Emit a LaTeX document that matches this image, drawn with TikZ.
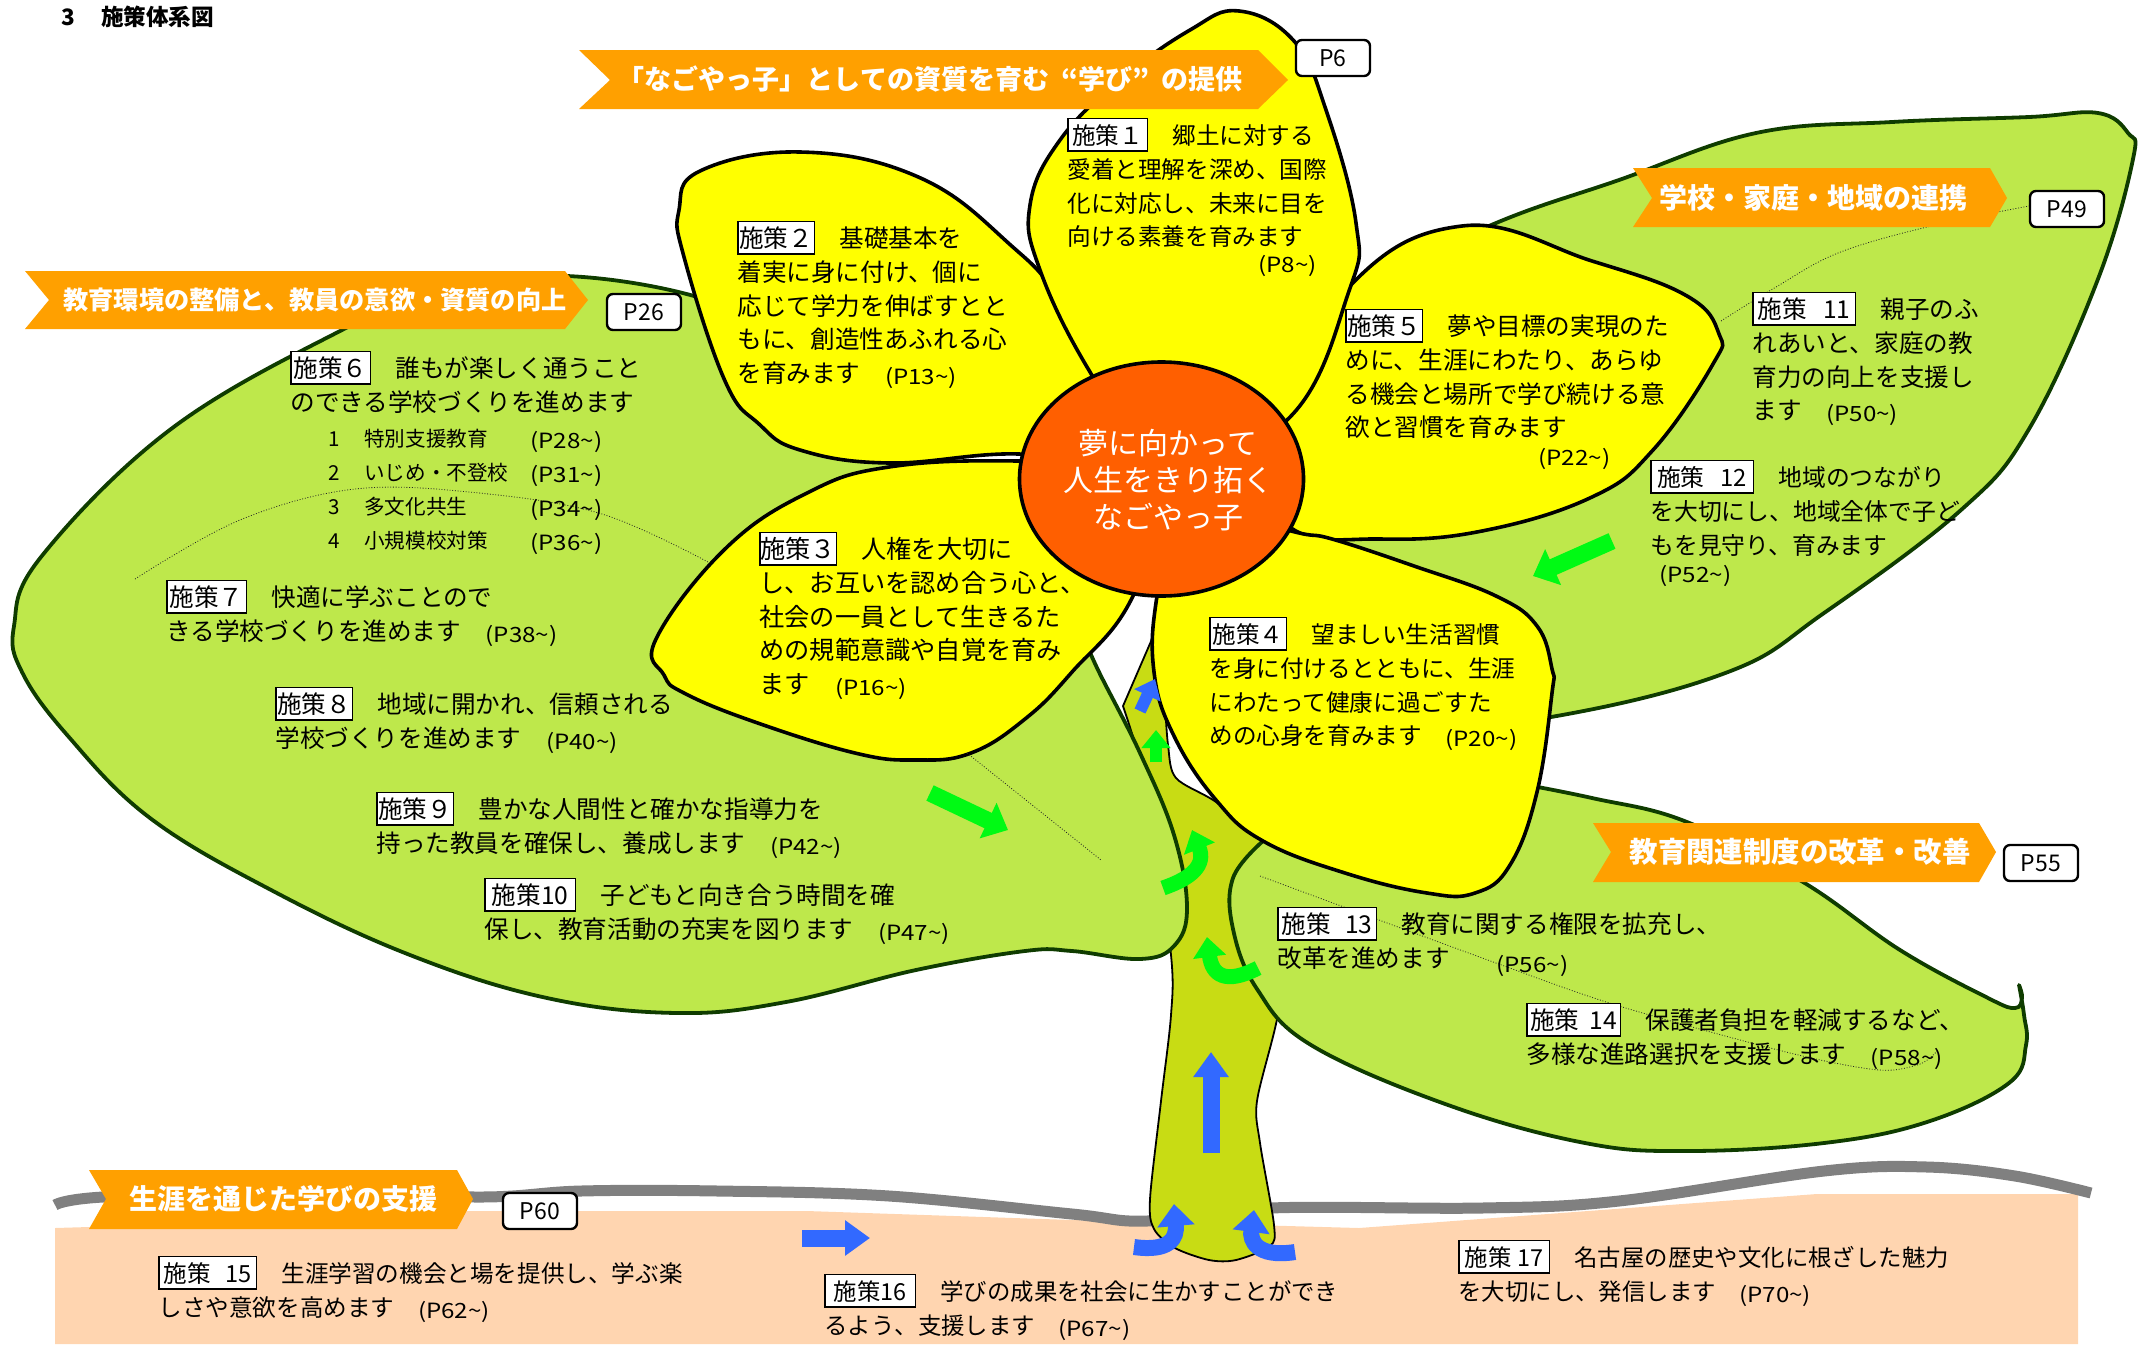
\documentclass[tikz,border=0pt]{standalone}
\usepackage{fontspec}
\usepackage{graphicx}
\usetikzlibrary{arrows.meta,shapes.geometric}
\setmainfont{Noto Sans CJK JP}
\definecolor{leafgreen}{RGB}{190,232,75}
\definecolor{leafedge}{RGB}{15,60,0}
\definecolor{stemgreen}{RGB}{200,220,20}
\definecolor{bannerorange}{RGB}{255,160,0}
\definecolor{soilpeach}{RGB}{255,213,176}
\definecolor{coreorange}{RGB}{255,95,0}
\definecolor{arrowgreen}{RGB}{0,250,20}
\definecolor{arrowblue}{RGB}{50,105,255}
\definecolor{petalyellow}{RGB}{255,255,0}
% numbered measure tag opening a text block
\newcommand{\lab}[2]{\rule{0pt}{11pt}\smash{\fboxsep=0pt\fboxrule=0.6pt\fcolorbox{black}{white}{\makebox[#1]{\rule[-3pt]{0pt}{15.5pt}#2}}}\hspace{12.3pt}}
% page reference
\newcommand{\pg}[1]{\raisebox{-1pt}{\scalebox{1.15}[1]{\fontsize{10.5}{12}\selectfont(#1\textasciitilde)}}}
\tikzset{
  leaf/.style={fill=leafgreen,draw=leafedge,line width=1.9pt,line join=round},
  petal/.style={fill=petalyellow,draw=black,line width=1.8pt,line join=round},
  banner/.style={fill=bannerorange,draw=none},
  bannertext/.style={text=white,font=\fontsize{#1}{16}\selectfont\bfseries,inner sep=0pt},
  pbox/.style={draw=black,fill=white,line width=1.2pt,rounded corners=3pt,minimum width=37pt,minimum height=18pt,inner sep=0pt,font=\fontsize{11.5}{13}\selectfont},
  body/.style={anchor=north west,align=left,inner sep=0pt,font=\fontsize{12.3}{16.9}\selectfont},
  bodyfit/.style={font=\fontsize{#1}{16.9}\selectfont},
  pageref/.style={anchor=west,inner sep=0pt},
  listrow/.style={anchor=west,inner sep=0pt,font=\fontsize{10.3}{12}\selectfont},
  vein/.style={line width=0.4pt,draw=black!85,dash pattern=on 0.45pt off 0.9pt},
  gstraight/.style={draw=arrowgreen,line width=8.5pt,-{Triangle[length=11pt,width=19pt]}},
  gsmall/.style={draw=#1,line width=6pt,-{Triangle[length=9pt,width=14pt]}},
  gcurve/.style={draw=arrowgreen,line width=7.5pt,-{Triangle[length=10pt,width=16pt]}},
  bcurve/.style={draw=arrowblue,line width=8pt,-{Triangle[length=11pt,width=18pt]}},
  bstraight/.style={draw=arrowblue,line width=8.5pt,-{Triangle[length=12.5pt,width=17pt]}},
}
\begin{document}
\begin{tikzpicture}[x=0.5pt,y=-0.5pt]
\useasboundingbox (0,0) rectangle (2145,1344);

% soil and ground line
\fill[soilpeach] (55,1228) -- (89,1227) -- (465,1211) -- (807,1211) -- (1072,1220) -- (1359,1228) -- (1817,1194) -- (2078,1194) -- (2078,1344) -- (55,1344) -- cycle;
\draw[draw=black!50,line width=5.5pt] plot[smooth,tension=0.6] coordinates {(55,1205) (103,1197) (300,1191) (479,1197) (581,1191) (718,1191) (889,1196) (1072,1214) (1147,1221) (1270,1208) (1482,1208) (1619,1201) (1824,1171) (1927,1167) (2015,1176) (2091,1193)};

% right upper leaf
\draw[leaf] plot[smooth,tension=0.65] coordinates {(1340,300) (1489,226) (1619,180) (1756,133) (1892,122) (2029,117) (2098,113) (2128,133) (2133,159) (2098,279) (2029,429) (1961,510) (1824,613) (1728,672) (1551,717) (1340,740)};

% stem
\draw[fill=stemgreen,draw=black,line width=0.9pt] plot[smooth,tension=0.5] coordinates {(1155,632) (1163,680) (1168,745) (1176,778) (1216,802) (1263,841) (1285,950) (1277,1019) (1257,1101) (1260,1143) (1274,1225) (1270,1246) (1236,1260) (1209,1260) (1175,1248) (1154,1229) (1150,1199) (1161,1101) (1171,1015) (1171,955) (1150,800) (1123,706)} -- cycle;

% left leaf
\draw[leaf] plot[smooth,tension=0.65] coordinates {(760,330) (694,296) (567,276) (450,285) (342,330) (171,429) (41,557) (14,626) (22,672) (68,736) (150,818) (273,891) (410,955) (547,998) (677,1013) (786,1002) (916,970) (1025,951) (1072,951) (1140,959) (1174,946) (1187,908) (1174,835) (1140,753) (1099,672) (1085,640)} -- cycle;

% right lower leaf with its notched tip
\draw[leaf] plot[smooth,tension=0.65] coordinates {(1500,780) (1592,798) (1687,822) (1803,882) (1900,950) (1988,998) (2015,1008) (2022,998) (2019,985)} -- plot[smooth,tension=0.65] coordinates {(2019,985) (2024,1015) (2026,1045) (2009,1083) (1927,1122) (1824,1143) (1687,1151) (1585,1143) (1448,1105) (1311,1045) (1257,989) (1233,929) (1233,878) (1263,841)} -- cycle;

% petals
\draw[petal] plot[smooth cycle,tension=0.7] coordinates {(1130,470) (1066,313) (1005,240) (916,176) (800,152) (700,171) (679,210) (684,257) (725,381) (759,424) (800,450) (889,463) (1019,454)};
\draw[petal] plot[smooth cycle,tension=0.7] coordinates {(1170,470) (1019,461) (889,467) (807,493) (725,549) (656,639) (664,675) (684,693) (752,721) (855,753) (916,760) (971,753) (1025,719) (1072,672) (1133,596)};
\draw[petal] plot[smooth cycle,tension=0.7] coordinates {(1250,450) (1345,291) (1462,226) (1592,261) (1687,296) (1719,334) (1713,364) (1653,450) (1592,497) (1482,531) (1380,539) (1291,528)};
\draw[petal] plot[smooth cycle,tension=0.7] coordinates {(1160,470) (1090,372) (1040,270) (1030,205) (1060,140) (1120,80) (1190,30) (1239,11) (1294,41) (1325,107) (1356,223) (1349,291) (1287,420)};
\draw[petal] plot[smooth cycle,tension=0.7] coordinates {(1180,500) (1291,531) (1332,539) (1414,566) (1496,596) (1537,626) (1552,669) (1552,693) (1537,792) (1510,865) (1475,893) (1427,893) (1345,873) (1263,841) (1216,800) (1174,736) (1154,672) (1157,596)};

% dotted veins
\draw[vein] plot[smooth,tension=0.6] coordinates {(135,579) (240,520) (355,489) (479,493) (602,514) (708,562)};
\draw[vein] (967,753) -- (1101,860);
\draw[vein] plot[smooth,tension=0.6] coordinates {(1721,321) (1776,287) (1838,253) (1927,227) (2029,206)};
\draw[vein] plot[smooth,tension=0.5] coordinates {(1260,876) (1496,963) (1619,1006) (1790,1053) (1879,1070) (1920,1064) (1937,1051)};

% growth arrows
\coordinate (ga1) at (1612,541); \coordinate (gb1) at (1533,576);
\coordinate (ga2) at (930,793); \coordinate (gb2) at (1008,830);
\coordinate (ga3) at (1156,762); \coordinate (gb3) at (1156,730);
\coordinate (ba4) at (1140,711); \coordinate (bb4) at (1155,679);
\draw[gstraight] (ga1) -- (gb1);
\draw[gstraight] (ga2) -- (gb2);
\draw[gsmall=arrowgreen] (ga3) -- (gb3);
\draw[gsmall=arrowblue] (ba4) -- (bb4);
\draw[gcurve] (1163,888) .. controls (1192,878) and (1206,865) .. (1192,830);
\draw[gcurve] (1258,968) .. controls (1225,985) and (1212,975) .. (1207,937);
\draw[bstraight] (1211,1153) -- (1211,1052);
\draw[bstraight] (802,1238) -- (870,1238);
\draw[bcurve] (1134,1247) .. controls (1170,1252) and (1177,1238) .. (1174,1204);
\draw[bcurve] (1295,1252) .. controls (1256,1258) and (1250,1240) .. (1254,1210);

% centre of the flower
\node[ellipse,draw=black,fill=coreorange,line width=1.8pt,minimum width=142pt,minimum height=117pt,inner sep=0pt] (core) at (1161.5,479) {};
\node[text=white,align=center,inner sep=0pt,font=\fontsize{15}{18.5}\selectfont] (coretext) at (1168,480) {夢に向かって\\人生をきり拓く\\なごやっ子};

% banners
\fill[banner] (579,50) -- (1258,50) -- (1288,80) -- (1258,109) -- (579,109) -- (610,80) -- cycle;
\node[bannertext=13.5] (b1) at (930,79) {「なごやっ子」としての資質を育む\hspace{6pt}“学び”\hspace{6pt}の提供};
\fill[banner] (25,271) -- (565,271) -- (588,300) -- (565,329) -- (25,329) -- (49,300) -- cycle;
\node[bannertext=12.6] (b2) at (315,300) {教育環境の整備と、教員の意欲・資質の向上};
\fill[banner] (1633,168) -- (1990,168) -- (2007,198) -- (1990,227) -- (1633,227) -- (1652,198) -- cycle;
\node[bannertext=14] (b3) at (1813,198) {学校・家庭・地域の連携};
\fill[banner] (1593,823) -- (1979,823) -- (1996,852) -- (1979,882) -- (1593,882) -- (1611,852) -- cycle;
\node[bannertext=14.2] (b4) at (1800,852) {教育関連制度の改革・改善};
\fill[banner] (89,1170) -- (457,1170) -- (473,1199) -- (457,1229) -- (89,1229) -- (106,1199) -- cycle;
\node[bannertext=14] (b5) at (283,1199) {生涯を通じた学びの支援};

% page tags
\node[pbox] (p6) at (1333,58) {P6};
\node[pbox] (p26) at (644,312) {P26};
\node[pbox] (p49) at (2067,209) {P49};
\node[pbox] (p55) at (2041,863) {P55};
\node[pbox] (p60) at (540,1211) {P60};

% heading
\node[anchor=west,inner sep=0pt,font=\fontsize{11.3}{13}\selectfont\bfseries] (heading) at (61,17) {3\hspace{13pt}施策体系図};

% measures
\node[body,bodyfit=11.8] (m1) at (1067,122) {\lab{39pt}{施策１}郷土に対する\\愛着と理解を深め、国際\\化に対応し、未来に目を\\向ける素養を育みます};
\node[pageref] (m1p) at (1258,266) {\pg{P8}};
\node[body] (m2) at (737,225) {\lab{37.5pt}{施策２}基礎基本を\\着実に身に付け、個に\\応じて学力を伸ばすとと\\もに、創造性あふれる心\\を育みます\quad\pg{P13}};
\node[body,bodyfit=12.6] (m3) at (759,536) {\lab{37.5pt}{施策３}人権を大切に\\し、お互いを認め合う心と、\\社会の一員として生きるた\\めの規範意識や自覚を育み\\ます\quad\pg{P16}};
\node[body,bodyfit=11.8] (m4) at (1209,621) {\lab{37.5pt}{施策４}望ましい生活習慣\\を身に付けるとともに、生涯\\にわたって健康に過ごすた\\めの心身を育みます\quad\pg{P20}};
\node[body] (m5) at (1345,313) {\lab{37.5pt}{施策５}夢や目標の実現のた\\めに、生涯にわたり、あらゆ\\る機会と場所で学び続ける意\\欲と習慣を育みます};
\node[pageref] (m5p) at (1538,459) {\pg{P22}};
\node[body] (m6) at (290,355) {\lab{39pt}{施策６}誰もが楽しく通うこと\\のできる学校づくりを進めます};
\node[listrow] (r1) at (328,441) {\makebox[18pt][l]{1}\makebox[83pt][l]{特別支援教育}\pg{P28}};
\node[listrow] (r2) at (328,475) {\makebox[18pt][l]{2}\makebox[83pt][l]{いじめ・不登校}\pg{P31}};
\node[listrow] (r3) at (328,509) {\makebox[18pt][l]{3}\makebox[83pt][l]{多文化共生}\pg{P34}};
\node[listrow] (r4) at (328,543) {\makebox[18pt][l]{4}\makebox[83pt][l]{小規模校対策}\pg{P36}};
\node[body] (m7) at (166,584) {\lab{39pt}{施策７}快適に学ぶことので\\きる学校づくりを進めます\quad\pg{P38}};
\node[body] (m8) at (275,691) {\lab{37.5pt}{施策８}地域に開かれ、信頼される\\学校づくりを進めます\quad\pg{P40}};
\node[body] (m9) at (376,796) {\lab{37.5pt}{施策９}豊かな人間性と確かな指導力を\\持った教員を確保し、養成します\quad\pg{P42}};
\node[body] (m10) at (484,882) {\lab{44.5pt}{施策10}子どもと向き合う時間を確\\保し、教育活動の充実を図ります\quad\pg{P47}};
\node[body] (m11) at (1752,296) {\lab{50.5pt}{施策\hspace{8pt}11}親子のふ\\れあいと、家庭の教\\育力の向上を支援し\\ます\quad\pg{P50}};
\node[body,bodyfit=11.9] (m12) at (1650,464) {\lab{50.5pt}{施策\hspace{8pt}12}地域のつながり\\を大切にし、地域全体で子ど\\もを見守り、育みます};
\node[pageref] (m12p) at (1659,576) {\pg{P52}};
\node[body] (m13) at (1277,911) {\lab{48.5pt}{施策\hspace{7pt}13}教育に関する権限を拡充し、\\改革を進めます};
\node[pageref] (m13p) at (1496,966) {\pg{P56}};
\node[body] (m14) at (1526,1007) {\lab{46pt}{施策\hspace{5pt}14}保護者負担を軽減するなど、\\多様な進路選択を支援します\quad\pg{P58}};
\node[body,bodyfit=11.8] (m15) at (158,1260) {\lab{48pt}{施策\hspace{7pt}15}生涯学習の機会と場を提供し、学ぶ楽\\しさや意欲を高めます\quad\pg{P62}};
\node[body,bodyfit=11.7] (m16) at (824,1278) {\lab{44.5pt}{施策16}学びの成果を社会に生かすことができ\\るよう、支援します\quad\pg{P67}};
\node[body,bodyfit=11.7] (m17) at (1458,1244) {\lab{44.5pt}{施策\hspace{3pt}17}名古屋の歴史や文化に根ざした魅力\\を大切にし、発信します\quad\pg{P70}};
\end{tikzpicture}
\end{document}
